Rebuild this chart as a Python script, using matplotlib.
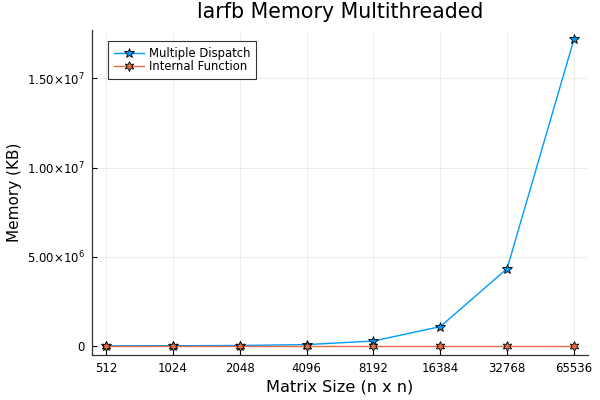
import matplotlib
matplotlib.use("Agg")
import matplotlib.pyplot as plt
from matplotlib.ticker import FixedLocator, FuncFormatter
import numpy as np

sizes = ["512", "1024", "2048", "4096", "8192", "16384", "32768", "65536"]
multiple_dispatch = [1.05e3, 4.2e3, 1.68e4, 6.7e4, 2.69e5, 1.075e6, 4.33e6, 1.72e7]
internal_function = [10, 10, 10, 10, 10, 10, 10, 10]
yticks = [0, 5.0e6, 1.0e7, 1.5e7]

fig = plt.figure(figsize=(6, 4), dpi=100)
ax = fig.add_axes([92/600, 1 - 355/400, (588 - 92)/600, (355 - 30)/400])

x = np.arange(len(sizes))
ax.plot(x, multiple_dispatch, color="#009AFA", lw=1, marker="*", ms=7,
        mec="black", mew=0.6, mfc="#009AFA", label="Multiple Dispatch")
ax.plot(x, internal_function, color="#E26F46", lw=1, marker=(6, 1, 0), ms=7,
        mec="black", mew=0.6, mfc="#E26F46", label="Internal Function")

ymax = max(multiple_dispatch)
pad = 0.03 * ymax
ax.set_ylim(-pad, ymax + pad)
ax.set_xlim(-0.21, len(sizes) - 1 + 0.21)

ax.set_xticks(x)
ax.set_xticklabels(sizes)

def fmt(v, pos):
    if v == 0:
        return "0"
    e = int(np.floor(np.log10(abs(v))))
    m = v / 10**e
    return r"$%.2f{\times}10^{%d}$" % (m, e)

ax.yaxis.set_major_locator(FixedLocator(yticks))
ax.yaxis.set_major_formatter(FuncFormatter(fmt))

for s in ["top", "right"]:
    ax.spines[s].set_visible(False)
for s in ["left", "bottom"]:
    ax.spines[s].set_color("#333333")
    ax.spines[s].set_linewidth(0.9)

ax.tick_params(direction="in", length=3.6, width=0.8, labelsize=8.5, colors="black", pad=5)
ax.grid(True, color="black", alpha=0.1, lw=0.5)
ax.set_axisbelow(True)

ax.set_xlabel("Matrix Size (n x n)", fontsize=11.6, labelpad=3)
ax.set_ylabel("Memory (KB)", fontsize=11)
fig.text(340/600, 1 - 12/400, "larfb Memory Multithreaded", fontsize=14.8,
         ha="center", va="center")

leg = ax.legend(loc="upper left", bbox_to_anchor=(0.032, 0.965), fontsize=8.4,
                frameon=True, fancybox=False, edgecolor="black",
                handlelength=2.6, borderpad=0.5, labelspacing=0.02, handletextpad=0.4,
                borderaxespad=0)
leg.get_frame().set_linewidth(0.8)

fig.savefig("out.png", dpi=100)
